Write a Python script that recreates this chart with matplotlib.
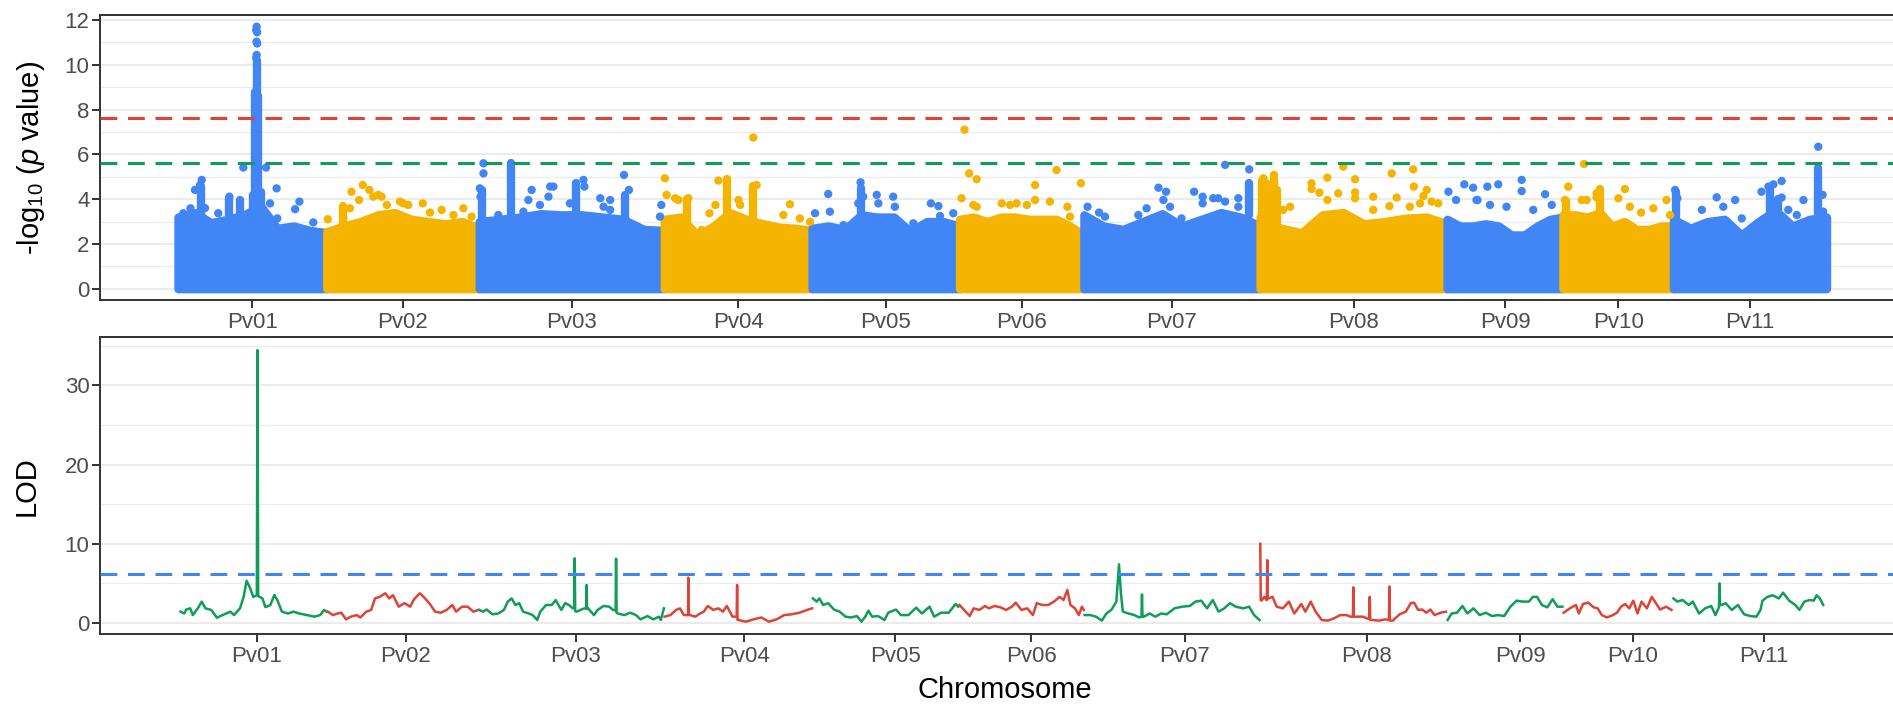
import numpy as np
import matplotlib
matplotlib.use("Agg")
import matplotlib.pyplot as plt
from matplotlib.ticker import MultipleLocator

plt.rcParams['font.family'] = ['Liberation Sans', 'DejaVu Sans']
plt.rcParams['mathtext.fontset'] = 'custom'
plt.rcParams['mathtext.rm'] = 'Liberation Sans'
plt.rcParams['mathtext.it'] = 'Liberation Sans:italic'

# chromosomes and their lengths (Mb, cumulative axis)
chroms = ['Pv01', 'Pv02', 'Pv03', 'Pv04', 'Pv05', 'Pv06',
          'Pv07', 'Pv08', 'Pv09', 'Pv10', 'Pv11']
chrom_len = [45.1, 46.2, 56.1, 44.8, 44.7, 37.7, 53.4, 56.7, 35.1, 33.5, 46.4]

# significance thresholds
gwas_bonf = 7.62
gwas_sugg = 5.63
lod_thr = 6.22

# upper edge of the dense SNP cloud, -log10(p), evenly spaced along each chromosome
env_pv01 = [3.2, 3.4, 2.95, 3.1, 3.3, 3.7, 2.7, 2.8, 2.6, 2.5]
env_pv02 = [2.55, 2.8, 3.0, 3.3, 3.4, 3.1, 3.0, 2.9, 3.0, 2.7]
env_pv03 = [3.0, 3.1, 3.2, 3.35, 3.3, 3.3, 3.2, 3.1, 2.65, 2.6]
env_pv04 = [3.1, 3.2, 2.4, 2.8, 3.4, 3.1, 2.9, 2.75, 2.7, 2.6]
env_pv05 = [2.7, 2.8, 2.65, 3.3, 3.2, 3.2, 2.55, 3.0, 3.0, 2.8]
env_pv06 = [3.1, 3.2, 3.0, 3.2, 3.2, 3.1, 3.1, 3.1, 2.8, 2.4]
env_pv07 = [3.3, 2.8, 2.65, 3.0, 3.35, 2.8, 3.1, 3.4, 3.2, 2.8]
env_pv08 = [3.2, 2.7, 2.5, 3.3, 3.4, 2.9, 3.0, 3.15, 3.2, 2.9]
env_pv09 = [3.1, 2.8, 2.8, 2.9, 2.8, 2.4, 2.4, 2.8, 3.1, 3.2]
env_pv10 = [3.3, 3.3, 3.2, 3.4, 2.8, 3.0, 2.65, 2.65, 2.8, 2.8]
env_pv11 = [3.1, 2.7, 3.0, 3.1, 2.4, 3.0, 3.5, 2.8, 3.1, 3.2]
envelopes = [env_pv01, env_pv02, env_pv03, env_pv04, env_pv05, env_pv06,
             env_pv07, env_pv08, env_pv09, env_pv10, env_pv11]

# individual SNPs standing out of the cloud (cumulative Mb, -log10 p)
snp_pos = [19.8, 26.7, 7.2, 5.15, 6.67, 29.9, 15.6, 18.8, 30.1, 36.8, 35.5, 41.0, 27.9, 12.2, 1.6, 3.8, 8.2,
           23.85, 23.7, 24.0, 23.8, 24.0, 23.85, 23.7,
           45.4, 52.6, 56.0, 58.0, 54.9, 59.2, 60.7, 61.7, 63.3, 67.3, 68.3, 69.8, 74.2, 76.4, 79.9, 83.5,
           86.5, 89.0, 52.1, 50.1,
           92.6, 92.6, 91.5, 91.7, 107.2, 106.2, 112.8, 113.8, 112.3, 118.8, 122.9, 123.2, 128.0, 131.0,
           129.0, 97.1, 104.7, 109.7, 135.2, 136.7, 131.0, 146.1, 146.5,
           147.6, 148.1, 150.7, 151.7, 154.7, 161.1, 162.9, 163.8, 169.9, 170.4, 174.4, 175.4, 185.5,
           183.5, 188.5, 191.6, 178.9, 158.7,
           193.1, 197.1, 197.6, 206.9, 207.7, 206.2, 211.8, 216.8, 217.3, 212.3, 222.9, 228.2, 230.5,
           231.0, 235.0, 201.7,
           237.5, 238.4, 239.8, 242.1, 241.1, 242.1, 249.7, 252.2, 257.3, 259.8, 259.8, 264.3, 266.3,
           254.2, 269.6, 270.4, 273.7,
           275.7, 279.2, 281.0, 291.1, 293.6, 297.2, 299.5, 298.7, 300.7, 304.2, 308.0, 310.6, 310.6,
           313.8, 315.3, 317.4, 317.4, 321.4, 324.7, 321.4,
           329.0, 332.2, 335.0, 337.1, 343.6, 343.6, 346.0, 348.4, 351.7, 348.4, 353.2, 356.8, 356.8,
           356.8, 362.3, 362.3, 367.9, 369.4, 367.2, 374.4, 374.6, 378.5, 377.5, 380.0, 382.0, 376.5, 373.4,
           385.1, 387.4, 389.9, 392.6, 396.9, 400.2, 393.6, 402.7, 407.3, 407.3, 410.8, 414.4, 416.4,
           393.9, 397.7,
           421.4, 420.4, 425.5, 427.0, 426.2, 430.0, 431.0, 430.0, 438.6, 436.6, 440.1, 443.5, 447.2,
           451.2, 452.3,
           453.8, 454.5, 461.9, 466.4, 472.0, 468.4, 474.0, 480.0, 482.1, 483.6, 486.1, 486.1, 488.1,
           490.7, 492.7, 497.2, 498.5, 498.7]
snp_logp = [5.41, 5.41, 4.86, 4.41, 4.63, 4.48, 4.11, 3.96, 3.14, 3.89, 3.55, 2.96, 3.81, 3.37, 3.37, 3.59, 3.6,
            11.70, 11.55, 11.45, 11.03, 10.95, 10.44, 10.30,
            3.10, 4.33, 4.63, 4.41, 3.96, 4.11, 4.19, 4.11, 3.74, 3.89, 3.81, 3.74, 3.81, 3.40, 3.52, 3.29,
            3.59, 3.22, 3.59, 3.14,
            5.60, 5.15, 4.48, 4.11, 4.41, 3.96, 4.56, 4.56, 4.11, 3.81, 4.86, 4.56, 4.04, 3.96,
            3.66, 3.29, 3.44, 3.74, 5.08, 4.41, 3.52, 3.22, 3.74,
            4.93, 4.19, 4.04, 3.96, 4.04, 3.37, 3.74, 4.83, 3.96, 3.74, 6.75, 4.63, 3.77,
            3.29, 3.14, 2.99, 2.84, 2.62,
            3.37, 4.23, 3.44, 4.75, 4.11, 3.81, 4.19, 4.11, 3.66, 3.81, 2.92, 3.81, 3.69,
            3.25, 3.37, 2.84,
            4.04, 7.10, 5.15, 4.89, 3.74, 3.66, 3.81, 3.74, 3.74, 4.63, 3.96, 3.89, 5.30,
            3.81, 3.66, 3.22, 4.71,
            3.66, 3.40, 3.22, 3.29, 3.59, 4.51, 4.33, 3.96, 3.66, 3.14, 4.33, 4.11, 3.81,
            4.04, 4.04, 3.89, 5.53, 4.04, 5.33, 3.66,
            4.93, 5.08, 3.52, 3.66, 4.71, 4.45, 4.29, 4.96, 4.26, 3.96, 5.45, 4.89, 4.30,
            4.04, 4.11, 3.52, 5.15, 4.07, 3.69, 5.33, 4.56, 4.41, 4.14, 3.89, 3.81, 3.81, 3.66,
            4.33, 3.96, 4.66, 4.51, 4.56, 4.66, 3.96, 3.66, 4.86, 4.36, 3.52, 4.22, 3.74,
            3.96, 3.74,
            4.56, 3.96, 3.96, 3.96, 5.57, 4.08, 4.45, 4.26, 4.45, 4.04, 3.66, 3.40, 3.59,
            3.96, 3.29,
            4.41, 4.04, 3.52, 4.08, 3.96, 3.66, 3.14, 4.33, 4.56, 4.66, 4.81, 4.07, 3.52,
            3.29, 3.96, 6.34, 4.19, 3.44]

# tightly packed SNP stacks (cumulative Mb, lowest and highest -log10 p)
stack_pos = [23.85, 23.45, 24.25, 22.6, 25.3, 7.0, 15.6, 18.8, 49.9, 92.3, 100.8, 120.6, 135.5,
             154.4, 166.3, 174.4, 206.9, 324.7, 328.6, 329.8, 331.0, 332.2, 333.2, 420.6, 431.0,
             454.2, 482.5, 485.0, 497.0]
stack_lo = [3.8, 3.8, 3.8, 3.4, 3.4, 3.3, 3.2, 3.2, 2.9, 3.0, 3.2, 3.3, 3.1,
            3.0, 3.3, 3.0, 3.2, 3.3, 3.0, 3.0, 3.0, 3.0, 3.0, 3.2, 3.0,
            2.8, 3.3, 3.3, 3.3]
stack_hi = [10.15, 8.8, 8.6, 4.2, 4.3, 4.6, 4.0, 3.9, 3.7, 4.4, 5.6, 4.7, 4.2,
            4.0, 4.9, 4.6, 4.5, 4.7, 4.8, 4.7, 4.6, 4.9, 4.4, 3.9, 4.3,
            4.3, 4.5, 4.0, 5.4]

# QTL scan: (position within chromosome, LOD)
lod_pv01 = [(0.8, 1.43), (1.9, 1.2), (2.5, 1.7), (3.7, 1.85), (4.5, 1.0), (6.0, 1.85), (7.2, 2.7),
            (8.3, 1.85), (10.1, 1.65), (11.8, 0.67), (13.5, 1.0), (15.9, 1.43), (17.0, 1.0),
            (18.8, 1.85), (19.9, 3.3), (20.8, 5.34), (21.9, 4.38), (22.8, 3.3), (23.9, 3.5),
            (24.1, 34.45), (24.3, 3.4), (25.6, 3.1), (26.5, 2.0), (28.0, 2.27), (29.2, 3.53),
            (30.1, 2.9), (31.5, 1.43), (33.3, 1.2), (35.0, 1.43), (36.7, 1.2), (39.1, 1.0),
            (41.4, 0.8), (43.1, 1.0), (44.3, 1.65), (45.0, 1.43)]
lod_pv02 = [(0.35, 1.43), (1.86, 1.0), (3.25, 1.2), (4.41, 1.3), (5.8, 0.46), (7.31, 0.8), (9.05, 1.0),
            (10.21, 0.7), (11.95, 1.43), (13.46, 1.65), (14.62, 3.1), (16.01, 3.3), (17.75, 3.75),
            (18.91, 3.1), (20.07, 3.5), (21.81, 2.06), (23.55, 2.5), (25.29, 2.06), (26.45, 3.0),
            (28.19, 3.75), (29.35, 3.3), (31.09, 2.5), (32.83, 1.43), (34.57, 1.3), (36.31, 1.65),
            (38.05, 2.27), (39.21, 1.43), (40.95, 2.06), (42.69, 2.06), (44.43, 1.43), (45.93, 1.65)]
lod_pv03 = [(0.0, 1.65), (1.12, 1.43), (2.28, 1.7), (4.02, 1.1), (5.76, 1.2), (7.5, 1.65), (8.66, 2.7),
            (9.82, 3.1), (10.98, 2.27), (12.14, 2.5), (13.3, 1.43), (15.04, 1.2), (16.2, 1.0),
            (17.59, 0.38), (18.52, 1.43), (20.26, 2.27), (22.0, 2.27), (23.16, 2.9), (24.9, 1.65),
            (26.06, 2.5), (27.22, 2.27), (28.38, 1.85), (28.85, 1.9), (28.95, 8.16), (29.1, 1.5),
            (29.54, 1.43), (30.7, 1.65), (31.86, 1.85), (32.45, 1.8), (32.56, 4.8), (32.7, 1.85),
            (33.02, 1.85), (34.76, 1.0), (35.92, 1.65), (37.66, 2.15), (39.4, 2.06), (40.56, 1.65),
            (41.35, 1.6), (41.49, 8.12), (41.65, 1.3), (41.95, 1.2), (44.04, 1.0), (45.78, 1.3),
            (47.52, 1.0), (48.91, 0.46), (51.0, 0.88), (52.74, 0.46), (54.48, 0.8), (55.06, 0.38),
            (55.99, 1.85)]
lod_pv04 = [(0.12, 0.8), (1.86, 1.0), (3.6, 1.65), (4.76, 1.85), (5.92, 1.0), (7.2, 1.0), (7.31, 5.72),
            (7.45, 1.0), (7.89, 1.0), (9.4, 0.8), (10.83, 1.2), (11.99, 1.43), (13.15, 2.15),
            (14.89, 1.65), (16.4, 1.85), (17.79, 1.43), (18.95, 2.15), (20.69, 0.8), (21.95, 0.8),
            (22.08, 4.8), (22.2, 0.4), (22.43, 0.38), (24.75, 0.17), (27.07, 0.46), (29.39, 0.7),
            (31.71, 0.17), (34.03, 0.46), (36.35, 1.0), (38.67, 1.1), (40.99, 1.3), (43.31, 1.65),
            (44.8, 1.85)]
lod_pv05 = [(0.25, 3.1), (1.41, 2.7), (2.22, 3.1), (3.38, 2.27), (4.89, 2.5), (6.63, 1.7), (8.37, 1.43),
            (10.11, 0.8), (11.85, 0.7), (13.59, 0.88), (14.98, 0.17), (16.14, 0.8), (17.07, 1.56),
            (18.23, 0.8), (19.97, 0.88), (21.94, 0.38), (23.1, 1.3), (25.42, 1.7), (26.92, 1.0),
            (29.24, 1.0), (31.56, 1.94), (33.3, 1.2), (35.62, 2.06), (37.02, 0.8), (39.1, 1.3),
            (41.42, 1.3), (43.51, 2.4), (44.32, 2.06)]
lod_pv06 = [(0.0, 2.27), (1.36, 1.65), (3.1, 0.88), (4.26, 1.85), (6.0, 1.65), (7.74, 2.15), (8.9, 1.85),
            (10.64, 2.15), (12.38, 1.98), (14.12, 1.65), (15.86, 2.06), (17.02, 2.57), (18.76, 1.65),
            (20.5, 1.85), (22.24, 1.0), (23.4, 2.5), (25.14, 2.27), (26.88, 2.27), (28.62, 2.7),
            (30.36, 3.3), (31.52, 2.9), (32.68, 4.17), (33.61, 2.27), (35.0, 1.85), (36.16, 1.0),
            (37.09, 2.06), (37.67, 1.65)]
lod_pv07 = [(0.2, 1.0), (1.94, 1.0), (3.68, 0.8), (5.42, 0.3), (6.81, 1.2), (8.32, 1.65), (9.83, 2.7),
            (10.64, 7.4), (11.22, 3.75), (11.8, 1.43), (13.54, 1.2), (15.28, 1.0), (16.79, 0.7),
            (17.45, 0.8), (17.6, 3.6), (17.75, 0.8), (18.18, 0.8), (19.92, 1.2), (21.66, 0.8),
            (23.4, 1.2), (25.14, 1.1), (27.46, 1.85), (29.78, 2.06), (32.1, 2.15), (33.84, 2.7),
            (35.58, 2.82), (37.32, 1.85), (39.06, 2.9), (40.8, 1.43), (42.54, 1.85), (44.28, 2.5),
            (46.02, 2.06), (48.34, 1.85), (50.08, 2.06), (51.59, 1.0), (53.21, 0.38)]
lod_pv08 = [(0.06, 10.0), (0.2, 2.9), (0.43, 2.82), (1.3, 3.3), (1.92, 2.9), (2.05, 2.9), (2.17, 7.95),
            (2.3, 3.1), (2.54, 3.1), (3.78, 3.3), (5.03, 2.06), (6.89, 1.85), (8.76, 2.7), (10.37, 1.2),
            (12.49, 2.4), (13.73, 1.43), (15.34, 2.7), (16.83, 1.43), (18.7, 0.38), (20.56, 0.3),
            (22.43, 0.59), (24.29, 1.0), (26.16, 1.0), (27.4, 0.8), (28.15, 0.8), (28.27, 4.5),
            (28.4, 0.8), (29.01, 0.8), (31.13, 0.8), (32.37, 0.59), (33.1, 0.5), (33.24, 3.3),
            (33.4, 0.4), (33.98, 0.38), (36.1, 0.3), (37.96, 0.46), (39.05, 0.4), (39.21, 4.6),
            (39.35, 0.3), (40.2, 0.3), (42.31, 1.1), (44.18, 1.43), (45.67, 2.5), (46.66, 2.57),
            (47.9, 1.65), (49.15, 1.7), (50.39, 1.3), (51.63, 1.7), (52.88, 1.0), (54.74, 1.3),
            (56.36, 1.43)]
lod_pv09 = [(0.15, 0.38), (1.39, 1.2), (3.01, 1.3), (4.63, 2.15), (6.12, 1.2), (7.98, 1.85), (9.85, 1.0),
            (11.71, 1.3), (13.58, 0.88), (15.44, 1.0), (17.3, 0.88), (19.17, 2.06), (21.03, 2.82),
            (22.9, 2.7), (24.76, 2.7), (26.0, 3.3), (27.25, 3.3), (28.74, 2.27), (30.35, 1.98),
            (31.97, 3.0), (33.46, 2.06), (34.95, 2.06)]
lod_pv10 = [(0.22, 1.3), (2.09, 1.85), (3.95, 2.27), (4.82, 1.2), (6.07, 2.4), (7.68, 2.57), (9.3, 1.98),
            (10.54, 1.85), (11.78, 1.0), (13.27, 0.7), (15.14, 1.0), (16.38, 1.3), (17.62, 2.06),
            (18.87, 2.4), (20.11, 1.85), (21.35, 2.82), (22.6, 1.2), (23.84, 2.7), (25.45, 1.85),
            (26.94, 3.3), (28.19, 2.5), (29.43, 1.7), (31.29, 2.06), (32.91, 1.65)]
lod_pv11 = [(0.0, 3.1), (1.15, 2.7), (2.77, 2.9), (4.63, 2.27), (5.87, 2.7), (7.74, 1.2), (9.6, 1.85),
            (11.47, 2.15), (12.71, 1.0), (13.8, 2.0), (13.95, 5.0), (14.1, 2.3), (14.57, 2.27),
            (15.82, 2.5), (17.68, 1.65), (19.54, 2.27), (21.41, 1.1), (23.27, 0.88), (25.14, 0.8),
            (26.38, 1.65), (27.0, 2.82), (28.49, 3.3), (30.11, 3.5), (31.97, 3.1), (33.21, 3.83),
            (35.08, 2.82), (36.94, 2.27), (38.19, 1.65), (39.68, 2.7), (41.29, 2.9), (42.53, 2.82),
            (43.4, 3.5), (44.4, 3.1), (45.39, 2.27)]
lod_scans = [lod_pv01, lod_pv02, lod_pv03, lod_pv04, lod_pv05, lod_pv06,
             lod_pv07, lod_pv08, lod_pv09, lod_pv10, lod_pv11]

# chromosome label positions on the LOD panel (cumulative Mb)
lod_tick_pos = [23.8, 69.0, 120.6, 171.7, 217.4, 258.6, 305.2, 360.4, 406.8, 441.0, 480.8]

gwas_cols = ['#4285F4', '#F4B400']
lod_cols = ['#0F9D58', '#DB4437']

starts = np.concatenate([[0.0], np.cumsum(chrom_len)[:-1]])
ends = starts + np.array(chrom_len)
mids = (starts + ends) / 2


def chrom_index(pos):
    return np.searchsorted(starts, pos, side='right') - 1


W, H = 1893, 704
fig = plt.figure(figsize=(W / 100, H / 100), dpi=100)
ax1 = fig.add_axes([100 / W, 1 - 300 / H, 1809 / W, 285 / H])
ax2 = fig.add_axes([100 / W, 1 - 634.3 / H, 1809 / W, 297 / H])

dot_d = 6.0  # point diameter in pt

# --- Manhattan plot ---
for i, env in enumerate(envelopes):
    c = gwas_cols[i % 2]
    x = np.linspace(starts[i], ends[i], len(env))
    ax1.fill_between(x, 0, env, facecolor=c, edgecolor=c, linewidth=dot_d,
                     joinstyle='round', zorder=3)

stack_c = [gwas_cols[k % 2] for k in chrom_index(np.array(stack_pos))]
ax1.vlines(stack_pos, stack_lo, stack_hi, colors=stack_c, linewidth=dot_d,
           capstyle='round', zorder=3)

snp_c = [gwas_cols[k % 2] for k in chrom_index(np.array(snp_pos))]
ax1.scatter(snp_pos, snp_logp, s=dot_d ** 2, c=snp_c, linewidths=0, zorder=4)

ax1.axhline(gwas_bonf, color='#DB4437', lw=2.2, dashes=(5.5, 3.5), zorder=5)
ax1.axhline(gwas_sugg, color='#0F9D58', lw=2.2, dashes=(5.5, 3.5), zorder=5)

ax1.set_ylim(-0.505, 12.223)
ax1.yaxis.set_major_locator(MultipleLocator(2))
ax1.yaxis.set_minor_locator(MultipleLocator(1))
ax1.set_xticks(mids)
ax1.set_xticklabels(chroms)

# --- QTL LOD profile ---
for i, scan in enumerate(lod_scans):
    arr = np.array(scan)
    ax2.plot(starts[i] + arr[:, 0], arr[:, 1], color=lod_cols[i % 2], lw=1.8,
             solid_joinstyle='round', zorder=3)
ax2.axhline(lod_thr, color='#4285F4', lw=2.2, dashes=(5.5, 3.5), zorder=5)

ax2.set_ylim(-1.426, 36.06)
ax2.yaxis.set_major_locator(MultipleLocator(10))
ax2.yaxis.set_minor_locator(MultipleLocator(5))
ax2.set_xticks(lod_tick_pos)
ax2.set_xticklabels(chroms)

for ax in (ax1, ax2):
    ax.set_xlim(-23.64, 524.7)
    ax.set_axisbelow(True)
    ax.yaxis.grid(True, which='major', color='#EBEBEB', lw=1.5)
    ax.yaxis.grid(True, which='minor', color='#EBEBEB', lw=0.8)
    for sp in ax.spines.values():
        sp.set_color('#333333')
        sp.set_linewidth(1.4)
    ax.tick_params(axis='both', which='major', length=5.5, width=1.4, color='#333333',
                   labelsize=16, labelcolor='#4D4D4D', pad=2)
    ax.tick_params(axis='y', which='minor', length=0)
    ax.tick_params(axis='x', pad=3)

fig.text(31 / W, 1 - 158 / H, r'-log$_{10}$ ($p$ value)', rotation=90,
         ha='center', va='center', fontsize=21)
fig.text(27 / W, 1 - 486 / H, 'LOD', rotation=90, ha='center', va='center', fontsize=21)
fig.text(1005 / W, 1 - 690 / H, 'Chromosome', ha='center', va='center', fontsize=21)

fig.savefig('out.png', dpi=100)
